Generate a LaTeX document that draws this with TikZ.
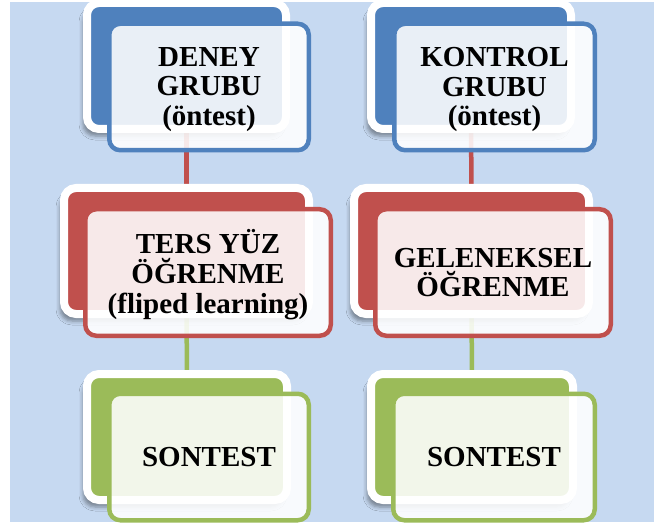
\documentclass[tikz,border=0pt]{standalone}
\usepackage{fontspec}
\setmainfont{Liberation Serif}
\usetikzlibrary{backgrounds,shadows.blur}
\definecolor{bgblue}{RGB}{198,217,241}
\definecolor{accblue}{RGB}{79,129,189}
\definecolor{accred}{RGB}{192,80,77}
\definecolor{accgreen}{RGB}{155,187,89}
\tikzset{
  backbox/.style={draw=white, line width=8pt, rounded corners=12pt, fill=#1,
    minimum height=126pt, inner sep=0pt,
    blur shadow={shadow xshift=-4pt, shadow yshift=-7pt, shadow blur radius=4pt, shadow opacity=40}},
  frontbox/.style={draw=#1, line width=4.5pt, rounded corners=11pt, fill=white,
    fill opacity=0.88, minimum height=126.5pt, inner sep=0pt},
  boxtext/.style={inner sep=0pt, align=center, font=\bfseries\fontsize{29}{29.8}\selectfont},
  link/.style={draw=#1, line width=4.5pt},
}
\begin{document}
\begin{tikzpicture}[x=1pt, y=-1pt]
\useasboundingbox (0,0) rectangle (654,524);

% left column: experimental group
\node[backbox=accblue, minimum width=199pt] (bL1) at (186.5,66) {};
\node[frontbox=accblue, minimum width=199.5pt] (fL1) at (209,87) {};
\node[boxtext] (tL1) at ([yshift=-2.5pt]fL1.center) {DENEY\\GRUBU\\(öntest)};
\node[backbox=accred, minimum width=245pt] (bL2) at (186.5,251) {};
\node[frontbox=accred, minimum width=245.5pt] (fL2) at (208,272.5) {};
\node[boxtext] (tL2) at ([yshift=-2pt]fL2.center) {TERS YÜZ\\ÖĞRENME\\(fliped learning)};
\node[backbox=accgreen, minimum width=200pt] (bL3) at (187,437) {};
\node[frontbox=accgreen, minimum width=199.5pt] (fL3) at (209,457) {};
\node[boxtext] (tL3) at (fL3.center) {SONTEST};

% right column: control group
\node[backbox=accblue, minimum width=200pt] (bR1) at (471,66) {};
\node[frontbox=accblue, minimum width=200.5pt] (fR1) at (494.5,87) {};
\node[boxtext] (tR1) at ([yshift=-2.5pt]fR1.center) {KONTROL\\GRUBU\\(öntest)};
\node[backbox=accred, minimum width=235pt] (bR2) at (471.5,251) {};
\node[frontbox=accred, minimum width=235.5pt] (fR2) at (493,272.5) {};
\node[boxtext] (tR2) at (fR2.center) {GELENEKSEL\\ÖĞRENME};
\node[backbox=accgreen, minimum width=202pt] (bR3) at (472,437) {};
\node[frontbox=accgreen, minimum width=201.5pt] (fR3) at (494,457) {};
\node[boxtext] (tR3) at (fR3.center) {SONTEST};

\begin{scope}[on background layer]
  \fill[bgblue] (10,2) rectangle (654,522);
  \draw[link=accred] (bL1.center) -- (bL2.center);
  \draw[link=accgreen] (bL2.center) -- (bL3.center);
  \draw[link=accred] (bR1.center) -- (bR2.center);
  \draw[link=accgreen] (bR2.center) -- (bR3.center);
\end{scope}
\end{tikzpicture}
\end{document}
